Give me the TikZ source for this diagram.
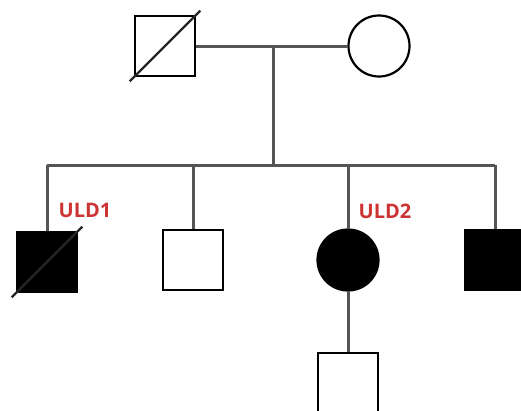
\documentclass[tikz,border=0pt]{standalone}
\usepackage{fontspec}
\newfontfamily\labelfont{Open Sans}
\usepackage{tikz}

\definecolor{linegray}{HTML}{555555}
\definecolor{labelred}{HTML}{CC3333}

\begin{document}
\begin{tikzpicture}[
        x=1pt,y=-1pt,
        male/.style={rectangle,draw,line width=2.2pt,fill=white,minimum size=60pt,inner sep=0pt},
        female/.style={circle,draw,line width=2.2pt,fill=white,minimum size=61pt,inner sep=0pt},
        affected/.style={fill=black},
        rel/.style={draw=linegray,line width=3pt},
        dead/.style={draw=black!85,line width=2.2pt,shorten <=-6pt,shorten >=-6pt},
        tag/.style={text=labelred,font=\labelfont\bfseries\fontsize{20}{20}\selectfont,inner sep=0pt}
    ]
        \useasboundingbox (0,0) rectangle (521,410);
        \clip (0,0) rectangle (521,410);

        % parents
        \node[male] (father) at (165,46) {};
        \node[female] (mother) at (379,46) {};
        \coordinate (mid) at (273,46);
        \coordinate (sib) at (273,165);

        % children
        \node[male,affected] (c1) at (47,262) {};
        \node[male] (c2) at (193,260) {};
        \node[female,affected] (c3) at (348,260) {};
        \node[male,affected] (c4) at (495,260) {};
        \node[male] (gc) at (348,383) {};

        \node[tag] (uld1) at (85,210) {ULD1};
        \node[tag] (uld2) at (385,211) {ULD2};

        \draw[rel] (father) -- (mother);
        \draw[rel] (mid) -- (sib);
        \draw[rel] (c1 |- sib) -- (c4 |- sib);
        \draw[rel] (c1 |- sib) -- (c1);
        \draw[rel] (c2 |- sib) -- (c2);
        \draw[rel] (c3 |- sib) -- (c3);
        \draw[rel] (c4 |- sib) -- (c4);
        \draw[rel] (c3) -- (gc);

        \draw[dead] (father.south west) -- (father.north east);
        \draw[dead] (c1.south west) -- (c1.north east);
    \end{tikzpicture}
\end{document}
